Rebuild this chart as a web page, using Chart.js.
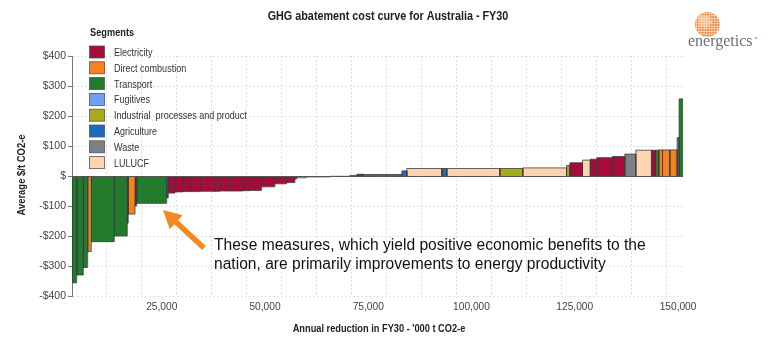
<!DOCTYPE html>
<html>
<head>
<meta charset="utf-8">
<script src="https://cdn.jsdelivr.net/npm/chart.js@4.4.1/dist/chart.umd.min.js"></script>
<style>
  html, body { margin: 0; padding: 0; background: #fff; }
</style>
</head>
<body>
<canvas id="macc" width="768" height="341"></canvas>
<script>
// Segments shown in the legend, in legend order
const segmentCodes = ['EL', 'DC', 'TR', 'FU', 'IP', 'AG', 'WA', 'LU'];
const segmentNames = ['Electricity', 'Direct combustion', 'Transport', 'Fugitives', 'Industrial  processes and product', 'Agriculture', 'Waste', 'LULUCF'];

// Abatement measures, left to right along the curve
const abatementStart = 3270; // '000 t CO2-e where the curve begins
const barSegments = [
    'TR', 'TR', 'TR', 'DC', 'TR', 'TR', 'TR', 'DC', 'EL', 'TR', 'AG',
    'EL', 'EL', 'EL', 'EL', 'EL', 'EL', 'EL', 'EL', 'EL', 'EL', 'EL', 'EL', 'EL',
    'AG', 'LU', 'AG', 'WA', 'EL', 'WA', 'EL', 'AG', 'AG', 'LU', 'AG', 'LU', 'IP', 'LU', 'IP',
    'EL', 'LU', 'EL', 'EL', 'EL', 'WA', 'LU', 'EL', 'TR', 'DC', 'DC', 'DC', 'WA', 'TR'
];
const barWidths = [ // '000 t CO2-e
    1140, 1600, 1060, 870, 5570, 3150, 240, 1620, 410, 7260, 390,
    1620, 1860, 1770, 2420, 3630, 1210, 2420, 3150, 1690, 2830, 3220, 2830, 2010,
    410, 2010, 480, 5570, 4840, 1690, 1450, 9440, 1210, 8470, 1210, 12830, 5570, 10580, 800,
    3070, 1890, 1570, 3750, 3030, 2660, 3800, 970, 800, 900, 1770, 1770, 480, 970
];
const barCosts = [ // $/t CO2-e
    -356, -330, -305, -252, -219, -200, -157, -127, -100, -91, -73,
    -57, -53, -52, -52, -51, -51, -50, -50, -49, -48, -36, -26, -22,
    -10, -6, -4, -3, -1, 2, 6, 5, 17, 25, 25, 25, 25, 27, 35,
    44, 53, 56, 61, 65, 73, 86, 86, 86, 87, 87, 87, 128, 257
];

const xTickValues = [25000, 50000, 75000, 100000, 125000, 150000];
const xMax = 151200;
const yTickValues = [-400, -300, -200, -100, 0, 100, 200, 300, 400];

const segmentColors = {
    EL: '#a50d38', DC: '#f5821f', TR: '#227a2c', FU: '#6f9ef2',
    IP: '#a3ad1c', AG: '#1c6bbf', WA: '#7d8084', LU: '#fdd4b0'
};

const sans = '"Liberation Sans", Arial, sans-serif';
const xGridStep = 8470;

// each measure is a filled step from its start to its end abatement
let cursor = abatementStart;
const datasets = barWidths.map((w, i) => {
    const x0 = cursor, x1 = cursor + w;
    cursor = x1;
    return {
        label: barSegments[i],
        data: [{ x: x0, y: 0 }, { x: x0, y: barCosts[i] }, { x: x1, y: barCosts[i] }, { x: x1, y: 0 }],
        backgroundColor: segmentColors[barSegments[i]],
        borderColor: '#3c3c3c',
        borderWidth: 0.8,
        fill: 'origin',
        pointRadius: 0,
        tension: 0
    };
});

// the source chart uses a condensed face, so squeeze the text horizontally
function narrowText(ctx, text, x, y, squeeze, align) {
    ctx.save();
    ctx.translate(x, y);
    ctx.scale(squeeze, 1);
    ctx.textAlign = align || 'left';
    ctx.fillText(text, 0, 0);
    ctx.restore();
}

const decorPlugin = {
    id: 'decor',
    afterDatasetsDraw(chart) {
        const { ctx, chartArea, scales } = chart;
        const y0 = Math.round(scales.y.getPixelForValue(0)) + 0.5;
        ctx.save();
        ctx.strokeStyle = '#555';
        ctx.lineWidth = 1;
        ctx.beginPath();
        ctx.moveTo(chartArea.left, y0);
        ctx.lineTo(chartArea.right, y0);
        ctx.stroke();
        ctx.restore();
    },
    afterDraw(chart) {
        const ctx = chart.ctx;
        ctx.save();
        ctx.textBaseline = 'middle';

        // title and axis titles
        ctx.fillStyle = '#222';
        ctx.font = `bold 12px ${sans}`;
        narrowText(ctx, 'GHG abatement cost curve for Australia - FY30', 388, 17, 0.9, 'center');
        ctx.font = `bold 11px ${sans}`;
        narrowText(ctx, "Annual reduction in FY30 - '000 t CO2-e", 379, 329, 0.84, 'center');
        ctx.save();
        ctx.translate(22, 175);
        ctx.rotate(-Math.PI / 2);
        narrowText(ctx, 'Average $/t CO2-e', 0, 0, 0.86, 'center');
        ctx.restore();

        // legend
        narrowText(ctx, 'Segments', 90, 33, 0.84);
        ctx.font = `11px ${sans}`;
        segmentCodes.forEach((code, i) => {
            const y = 52 + i * 15.8;
            ctx.fillStyle = segmentColors[code];
            ctx.fillRect(89.5, y - 6, 15, 12);
            ctx.strokeStyle = '#555';
            ctx.lineWidth = 0.8;
            ctx.strokeRect(89.5, y - 6, 15, 12);
            ctx.fillStyle = '#333';
            narrowText(ctx, segmentNames[i], 114, y + 1, 0.82);
        });

        // annotation arrow
        const tip = { x: 163, y: 210 }, tail = { x: 204, y: 248 };
        const len = Math.hypot(tail.x - tip.x, tail.y - tip.y);
        const ux = (tail.x - tip.x) / len, uy = (tail.y - tip.y) / len;
        const nx = -uy, ny = ux;
        const headLen = 18, headW = 9.5, shaftW = 2.7;
        const bx = tip.x + ux * headLen, by = tip.y + uy * headLen;
        ctx.fillStyle = '#f5891f';
        ctx.beginPath();
        ctx.moveTo(tip.x, tip.y);
        ctx.lineTo(bx + nx * headW, by + ny * headW);
        ctx.lineTo(bx + nx * shaftW, by + ny * shaftW);
        ctx.lineTo(tail.x + nx * shaftW, tail.y + ny * shaftW);
        ctx.lineTo(tail.x - nx * shaftW, tail.y - ny * shaftW);
        ctx.lineTo(bx - nx * shaftW, by - ny * shaftW);
        ctx.lineTo(bx - nx * headW, by - ny * headW);
        ctx.closePath();
        ctx.fill();

        ctx.fillStyle = '#111';
        ctx.font = `15.6px ${sans}`;
        ctx.textAlign = 'left';
        ctx.fillText('These measures, which yield positive economic benefits to the', 214, 246);
        ctx.fillText('nation, are primarily improvements to energy productivity', 214, 265);

        // energetics logo
        const cx = 707.5, cy = 24.5, r = 12.5;
        ctx.beginPath();
        ctx.arc(cx, cy, r, 0, Math.PI * 2);
        ctx.fillStyle = '#fbe3cd';
        ctx.fill();
        ctx.save();
        ctx.clip();
        for (let gy = cy - r; gy <= cy + r; gy += 2.6) {
            for (let gx = cx - r; gx <= cx + r; gx += 2.6) {
                const d = Math.hypot(gx - cx + 3, gy - cy + 3) / r;
                ctx.beginPath();
                ctx.arc(gx, gy, 1.15, 0, Math.PI * 2);
                ctx.fillStyle = d < 0.5 ? '#f6b987' : '#ec8d45';
                ctx.fill();
            }
        }
        ctx.restore();
        ctx.fillStyle = '#6d6e71';
        ctx.font = '16px "Liberation Serif", "Times New Roman", serif';
        ctx.textBaseline = 'alphabetic';
        ctx.fillText('energetics', 688, 46);
        ctx.fillStyle = '#f08a3c';
        ctx.beginPath();
        ctx.arc(756, 38, 1, 0, Math.PI * 2);
        ctx.fill();

        ctx.restore();
    }
};

new Chart(document.getElementById('macc'), {
    type: 'line',
    data: { datasets },
    plugins: [decorPlugin],
    options: {
        responsive: false,
        animation: false,
        layout: { padding: { top: 56, right: 85, left: 0, bottom: 0 } },
        plugins: { legend: { display: false }, tooltip: { enabled: false }, title: { display: false } },
        scales: {
            x: {
                type: 'linear',
                min: abatementStart,
                max: xMax,
                afterFit(scale) { scale.height = 45; },
                afterBuildTicks(scale) {
                    const ticks = [];
                    for (let v = abatementStart + xGridStep; v < xMax; v += xGridStep) ticks.push(v);
                    xTickValues.forEach(v => ticks.push(v));
                    scale.ticks = ticks.sort((a, b) => a - b).map(value => ({ value }));
                },
                ticks: {
                    autoSkip: false, maxRotation: 0, minRotation: 0, padding: 5,
                    color: '#444', font: { family: sans, size: 10.2 },
                    callback: v => xTickValues.includes(v) ? v.toLocaleString('en-US') : ''
                },
                grid: {
                    drawTicks: false,
                    color: ctx => (ctx.tick && xTickValues.includes(ctx.tick.value)) ? 'rgba(0,0,0,0)' : '#e0e0e0'
                },
                border: { display: false, dash: [2, 2] }
            },
            y: {
                min: -400,
                max: 400,
                afterFit(scale) { scale.width = 72; },
                afterBuildTicks(scale) { scale.ticks = yTickValues.map(value => ({ value })); },
                ticks: {
                    padding: 2, color: '#444', font: { family: sans, size: 10.5 },
                    callback: v => v === 0 ? '$' : (v < 0 ? `-$${-v}` : `$${v}`)
                },
                grid: { color: '#e0e0e0', tickLength: 4, tickColor: '#777' },
                border: { display: true, color: '#777', dash: [2, 2] }
            }
        }
    }
});
</script>
</body>
</html>
